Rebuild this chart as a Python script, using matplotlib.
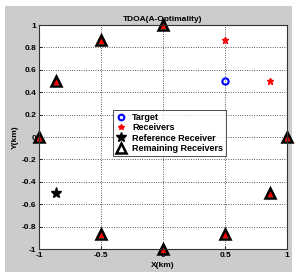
import matplotlib
matplotlib.use("Agg")
import matplotlib.pyplot as plt
from matplotlib.patches import Rectangle

# data (km)
target_x = [0.5]
target_y = [0.5]
rx_x = [1.0, 0.866, 0.5, 0.0, -0.5, -0.866, -1.0, -0.866, -0.5, 0.0, 0.5, 0.866]
rx_y = [0.0, 0.5, 0.866, 1.0, 0.866, 0.5, 0.0, -0.5, -0.866, -1.0, -0.866, -0.5]
ref_x = [-0.866]
ref_y = [-0.5]
rem_x = [1.0, 0.0, -0.5, -0.866, -1.0, -0.5, 0.0, 0.5, 0.866]
rem_y = [0.0, 1.0, 0.866, 0.5, 0.0, -0.866, -1.0, -0.866, -0.5]

xticks = [-1, -0.5, 0, 0.5, 1]
xticklabels = ["-1", "-0.5", "0", "0.5", "1"]
yticks = [-1, -0.8, -0.6, -0.4, -0.2, 0, 0.2, 0.4, 0.6, 0.8, 1]
yticklabels = ["-1", "-0.8", "-0.6", "-0.4", "-0.2", "0", "0.2", "0.4", "0.6", "0.8", "1"]

plt.rcParams["font.family"] = ["Liberation Sans", "DejaVu Sans"]
plt.rcParams["font.weight"] = "bold"

fig = plt.figure(figsize=(2.95, 2.76), dpi=100, facecolor="white")
fig.patches.append(Rectangle((5 / 295, 4 / 276), 287 / 295, 266 / 276,
                             transform=fig.transFigure, facecolor="#cccccc",
                             edgecolor="none", zorder=-10))

ax = fig.add_axes([39 / 295, 27 / 276, 248 / 295, 224 / 276])
ax.set_facecolor("white")

ax.plot(target_x, target_y, "o", ms=4.5, mfc="none", mec="blue", mew=1.5,
        ls="none", label="Target")
ax.plot(rx_x, rx_y, "*", ms=4.5, color="red", ls="none", label="Receivers",
        clip_on=False)
# red receivers seen inside the triangles
ax.plot(rem_x, rem_y, "^", ms=4.5, color="red", ls="none", clip_on=False)
ax.plot(ref_x, ref_y, "*", ms=8, color="black", ls="none",
        label="Reference Receiver")
ax.plot(rem_x, rem_y, "^", ms=7.5, mfc="none", mec="black", mew=1.8,
        ls="none", label="Remaining Receivers", clip_on=False)

ax.set_xlim(-1, 1)
ax.set_ylim(-1, 1)
ax.set_xticks(xticks)
ax.set_xticklabels(xticklabels)
ax.set_yticks(yticks)
ax.set_yticklabels(yticklabels)
ax.tick_params(direction="in", length=2.5, labelsize=6, pad=2, width=0.6)
ax.grid(True, color="#222222", ls=(0, (1, 1.8)), lw=0.6)
for s in ax.spines.values():
    s.set_linewidth(0.8)
    s.set_color("#333333")

ax.set_title("TDOA(A-Optimality)", fontsize=6, fontweight="bold", pad=3)
ax.set_xlabel("X(km)", fontsize=6, fontweight="bold", labelpad=2)
ax.set_ylabel("Y(km)", fontsize=6, fontweight="bold", labelpad=2)

leg = ax.legend(loc="upper left", bbox_to_anchor=(0.298, 0.622), fontsize=6.5,
                frameon=True, fancybox=False, borderpad=0.35, labelspacing=0.15,
                handlelength=1.2, handletextpad=0.6, borderaxespad=0,
                markerscale=0.9)
leg.get_frame().set_edgecolor("black")
leg.get_frame().set_linewidth(0.6)

fig.savefig("out.png", dpi=100, facecolor=fig.get_facecolor())
